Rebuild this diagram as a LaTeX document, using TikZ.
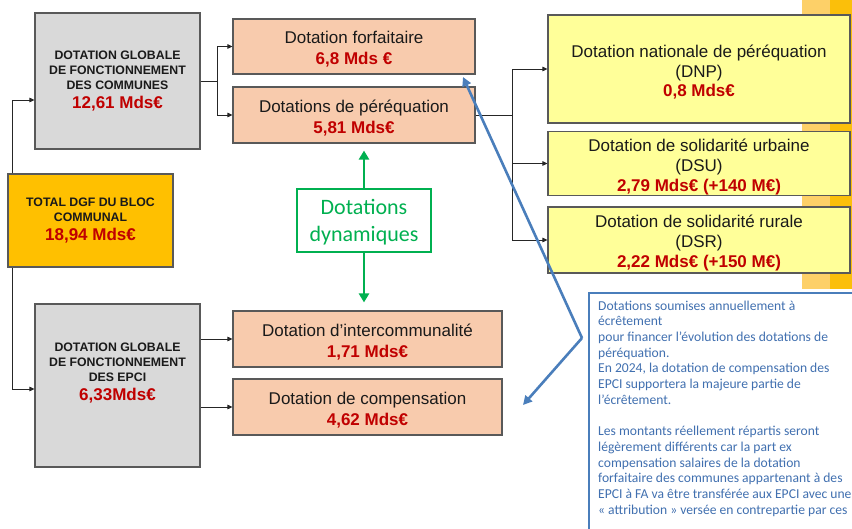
\documentclass[tikz,border=0pt]{standalone}
\usepackage{fontspec}
\setmainfont{Liberation Sans}
\newfontfamily\calib{Carlito}
\usetikzlibrary{arrows.meta}
\definecolor{grayfill}{HTML}{D9D9D9}
\definecolor{peach}{HTML}{F8CBAD}
\definecolor{lightyel}{HTML}{FFFF99}
\definecolor{orangefill}{HTML}{FFC000}
\definecolor{darkred}{HTML}{C00000}
\definecolor{greenc}{HTML}{00B050}
\definecolor{bluearr}{HTML}{4A7EBB}
\definecolor{bluetext}{HTML}{4170B0}
\definecolor{bordergray}{HTML}{595959}
\definecolor{stripeA}{HTML}{FDD068}
\definecolor{stripeB}{HTML}{FBBF0A}
\definecolor{txt}{HTML}{1A1A1A}
\newcommand\capsf{\fontsize{12.3}{15}\selectfont\bfseries}
\newcommand\bodyf{\fontsize{17}{20}\selectfont}
\newcommand\redf{\fontsize{17}{20}\selectfont\bfseries\color{darkred}}
\newcommand\topst{\rule{0pt}{20pt}}
\newcommand\botst{\rule[-4pt]{0pt}{4pt}}
\begin{document}
\begin{tikzpicture}[x=1pt,y=-1pt,
 box/.style={draw=bordergray,line width=1.1pt,inner sep=0pt,align=center,text=txt},
 graybox/.style={box,fill=grayfill,minimum width=165pt,minimum height=136pt,font=\capsf},
 peachbox/.style={box,fill=peach,font=\bodyf},
 yelbox/.style={box,fill=lightyel,font=\bodyf,minimum width=302pt},
 arr/.style={draw=black!85,line width=0.9pt,-{Triangle[length=5pt,width=4.5pt]}},
 garr/.style={draw=greenc,line width=2.6pt,-{Triangle[length=9pt,width=10pt]}},
 barr/.style={draw=bluearr,line width=2.6pt,-{Triangle[length=9pt,width=9pt]}},
]
\useasboundingbox (0,0) rectangle (852,529);
\clip (0,0) rectangle (852,529);
% background stripe
\fill[stripeA] (802,0) rectangle (830,289);
\fill[stripeB] (830,0) rectangle (852,289);

\node[graybox] (dgfc) at (117.5,81) {DOTATION GLOBALE\\DE FONCTIONNEMENT\\DES COMMUNES\\[4pt]{\redf 12,61 Mds€}};
\node[box,fill=orangefill,minimum width=165pt,minimum height=93pt,font=\capsf] (total) at (90.5,220.5) {TOTAL DGF DU BLOC\\COMMUNAL\\[4pt]{\redf 18,94 Mds€}};
\node[graybox,minimum height=163pt] (dgfe) at (117.5,385.5) {DOTATION GLOBALE\\DE FONCTIONNEMENT\\DES EPCI\\[4pt]{\redf 6,33Mds€}\\[12pt]\mbox{}};

\node[peachbox,minimum width=242pt,minimum height=55pt] (forf) at (354,46.5) {\topst Dotation forfaitaire\\[1pt]{\redf 6,8 Mds €\botst}};
\node[peachbox,minimum width=242pt,minimum height=56pt] (pereq) at (354,115) {\topst Dotations de péréquation\\[1pt]{\redf 5,81 Mds€\botst}};
\node[peachbox,minimum width=269pt,minimum height=56pt] (inter) at (367.5,339) {\topst Dotation d’intercommunalité\\[1pt]{\redf 1,71 Mds€\botst}};
\node[peachbox,minimum width=269pt,minimum height=56pt] (comp) at (367.5,407) {\topst Dotation de compensation\\[1pt]{\redf 4,62 Mds€\botst}};

\node[yelbox,minimum height=108pt] (dnp) at (699,69) {\topst Dotation nationale de péréquation\\(DNP)\\[-1pt]{\redf 0,8 Mds€\botst}};
\node[yelbox,minimum height=61pt] (dsu) at (699,163.5) {\topst Dotation de solidarité urbaine\\(DSU)\\{\redf 2,79 Mds€ (+140 M€)\botst}};
\node[yelbox,minimum height=66pt] (dsr) at (699,240) {\topst Dotation de solidarité rurale\\(DSR)\\{\redf 2,22 Mds€ (+150 M€)\botst}};

\node[draw=greenc,line width=1.3pt,fill=white,text=greenc,align=center,inner sep=0pt,
  minimum width=134pt,minimum height=63pt,font=\calib\fontsize{22}{27}\selectfont] (dyn) at (364,220.5) {\rule{0pt}{20.5pt}Dotations\\dynamiques\rule[-6pt]{0pt}{6pt}};

% note box
\draw[draw=bluearr,line width=1.2pt,fill=white] (589,293) rectangle (870,545);
\node[anchor=north west,inner sep=0pt,align=left,text=bluetext,
  font=\calib\fontsize{13.6}{15.7}\selectfont] (note) at (598,300.5) {Dotations soumises annuellement à\\écrêtement\\pour financer l’évolution des dotations de\\péréquation.\\En 2024, la dotation de compensation des\\EPCI supportera la majeure partie de\\l’écrêtement.\\[15.7pt]Les montants réellement répartis seront\\légèrement différents car la part ex\\compensation salaires de la dotation\\forfaitaire des communes appartenant à des\\EPCI à FA va être transférée aux EPCI avec une\\« attribution » versée en contrepartie par ces};

% connectors
\draw[arr] ([xshift=5pt]total.north west) |- ([yshift=-19pt]dgfc.west);
\draw[arr] ([xshift=5pt]total.south west) |- ([yshift=-3.5pt]dgfe.west);
\draw[arr] (dgfc.east) -- ++(17,0) |- (forf.west);
\draw[arr] (dgfc.east) ++(17,0) |- (pereq.west);
\draw[arr] (pereq.east) -- ++(37,0) |- (dnp.west);
\draw[arr] (pereq.east) ++(37,0) |- (dsu.west);
\draw[arr] (pereq.east) ++(37,0) |- (dsr.west);
\draw[arr] (dgfe.east |- inter.west) -- (inter.west);
\draw[arr] (dgfe.east |- comp.west) -- (comp.west);

\draw[garr,shorten >=7pt] (dyn.north) -- (pereq.south -| dyn.north);
\draw[garr,shorten >=8pt] (dyn.south) -- (inter.north -| dyn.south);

\coordinate (bj) at (582,338);
\coordinate (btipa) at (463,77);
\coordinate (btipb) at (523,405);
\draw[barr] (bj) -- (btipa);
\draw[barr] (bj) -- (btipb);
\end{tikzpicture}
\end{document}
